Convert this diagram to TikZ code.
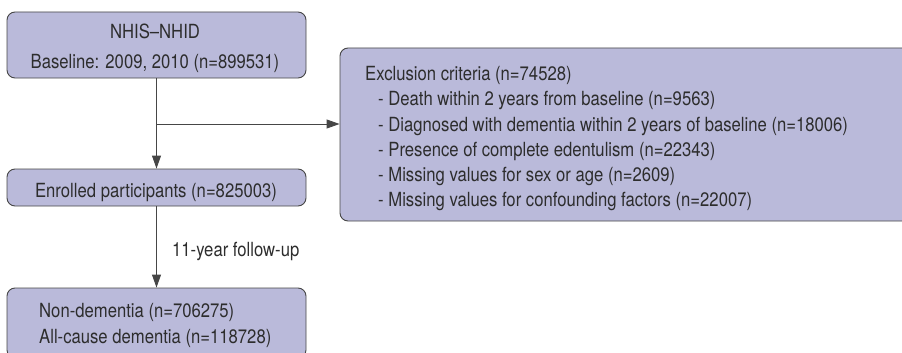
\documentclass[tikz,border=0pt]{standalone}
\usepackage{fontspec}
\setmainfont{TeX Gyre Heros}[FakeStretch=0.855]
\usetikzlibrary{arrows.meta}
\definecolor{boxfill}{RGB}{186,186,218}
\definecolor{boxline}{RGB}{70,70,70}
\definecolor{txt}{RGB}{45,45,45}
\tikzset{
  flowbox/.style={draw=boxline, fill=boxfill, line width=0.9pt, rounded corners=8pt, inner sep=0pt},
  flowtxt/.style={text=txt, font=\fontsize{19.5}{25}\selectfont, inner sep=0pt},
  flowarrow/.style={draw=boxline, line width=0.9pt, -{Triangle[length=13pt,width=9pt]}}
}
\begin{document}
\begin{tikzpicture}[x=1pt,y=-1pt]
\useasboundingbox (0,0) rectangle (902,353);
% boxes
\node[flowbox, minimum width=299pt, minimum height=66pt] (b1) at (156.5,45) {};
\node[flowbox, minimum width=299pt, minimum height=37pt] (b2) at (156.5,187.5) {};
\node[flowbox, minimum width=299pt, minimum height=70pt] (b3) at (156.5,323) {};
\node[flowbox, minimum width=580pt, minimum height=173pt] (b4) at (630,134.5) {};
% texts
\node[flowtxt, anchor=base] (t1a) at (155,39) {NHIS--NHID};
\node[flowtxt, anchor=base] (t1b) at (155,68) {Baseline: 2009, 2010 (n=899531)};
\node[flowtxt, anchor=base] (t2) at (156,197) {Enrolled participants (n=825003)};
\node[flowtxt, anchor=base west] (t3a) at (39,317) {Non-dementia (n=706275)};
\node[flowtxt, anchor=base west] (t3b) at (39,343) {All-cause dementia (n=118728)};
\node[flowtxt, anchor=base west] (e0) at (365,80.7) {Exclusion criteria (n=74528)};
\node[flowtxt, anchor=base west] (e1) at (378,105.9) {- Death within 2 years from baseline (n=9563)};
\node[flowtxt, anchor=base west] (e2) at (378,131.1) {- Diagnosed with dementia within 2 years of baseline (n=18006)};
\node[flowtxt, anchor=base west] (e3) at (378,156.3) {- Presence of complete edentulism (n=22343)};
\node[flowtxt, anchor=base west] (e4) at (378,181.5) {- Missing values for sex or age (n=2609)};
\node[flowtxt, anchor=base west] (e5) at (378,206.7) {- Missing values for confounding factors (n=22007)};
% connectors
\coordinate (j) at (b1.south |- 0,124);
\draw[flowarrow] (b1.south) -- (b2.north);
\draw[flowarrow] (j) -- (j -| b4.west);
\draw[flowarrow] (b2.south) -- (b3.north);
\node[flowtxt, anchor=base west] (lab) at (172,256) {11-year follow-up};
\end{tikzpicture}
\end{document}
